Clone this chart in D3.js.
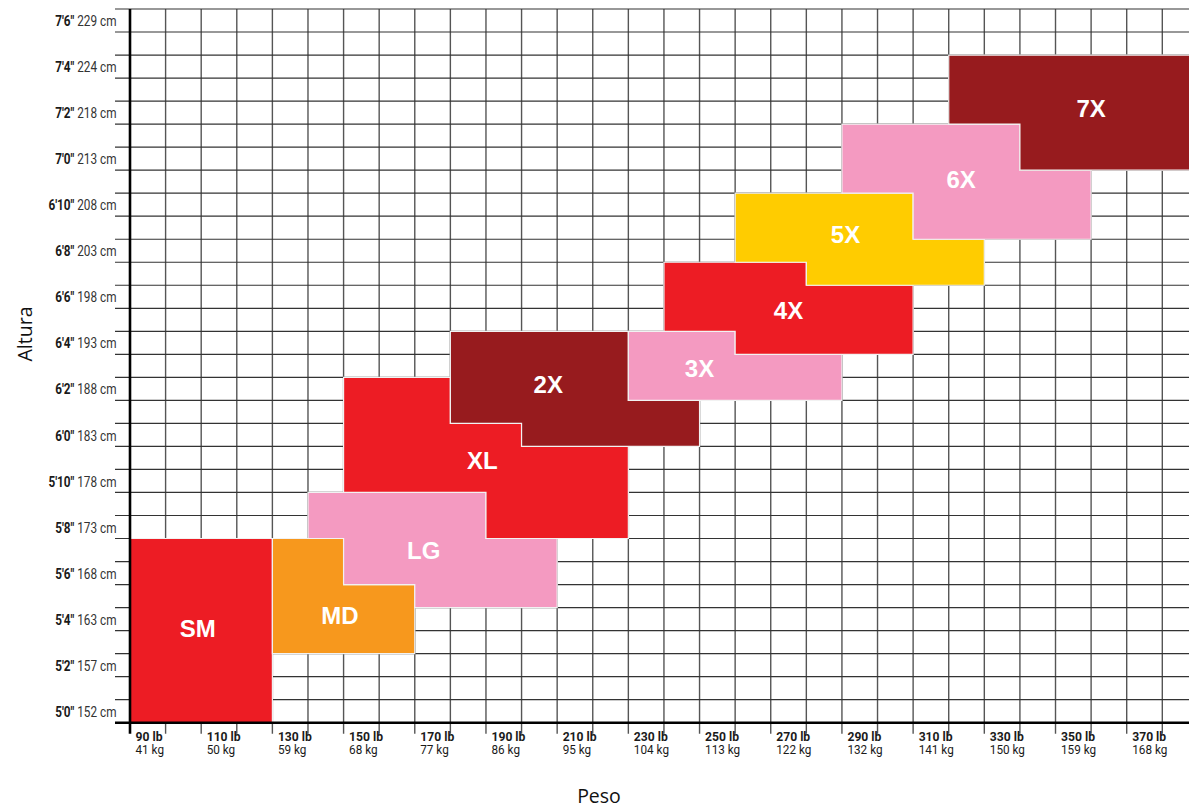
<!DOCTYPE html>
<html>
<head>
<meta charset="utf-8">
<script src="https://cdn.jsdelivr.net/npm/d3@7"></script>
<style>
  body { margin: 0; background: #fff; }
  .tick-label { font-family: Roboto, "Liberation Sans", sans-serif; fill: #1a1a1a; }
  .size-label { font-family: "Liberation Sans", Arial, sans-serif; font-weight: bold; fill: #fff; font-size: 24px; text-anchor: middle; }
  .axis-title { font-family: "Open Sans", "Noto Sans", sans-serif; font-size: 19.5px; fill: #111; }
</style>
</head>
<body>
<div class="chart"></div>
<script>
// DATA ------------------------------------

// y tick labels (every 2 inches, starting 5'0")
const heightInches = [60, 62, 64, 66, 68, 70, 72, 74, 76, 78, 80, 82, 84, 86, 88, 90];
const heightFeet = ["5'0\"", "5'2\"", "5'4\"", "5'6\"", "5'8\"", "5'10\"", "6'0\"", "6'2\"",
  "6'4\"", "6'6\"", "6'8\"", "6'10\"", "7'0\"", "7'2\"", "7'4\"", "7'6\""];
const heightCm = [152, 157, 163, 168, 173, 178, 183, 188, 193, 198, 203, 208, 213, 218, 224, 229];

// x tick labels (every 20 lb)
const weightLb = [90, 110, 130, 150, 170, 190, 210, 230, 250, 270, 290, 310, 330, 350, 370];
const weightKg = [41, 50, 59, 68, 77, 86, 95, 104, 113, 122, 132, 141, 150, 159, 168];

// sizes, outlines as [lb, inches] corners
const sizes = ['SM', 'MD', 'LG', 'XL', '2X', '3X', '4X', '5X', '6X', '7X'];
const sizeColors = ['#ED1C24', '#F7981D', '#F49AC1', '#ED1C24', '#971B1E',
  '#F49AC1', '#ED1C24', '#FFCC00', '#F49AC1', '#971B1E'];
const sizeOutlines = [
  [[90, 68], [130, 68], [130, 60], [90, 60]],
  [[130, 68], [150, 68], [150, 66], [170, 66], [170, 63], [130, 63]],
  [[140, 70], [190, 70], [190, 68], [210, 68], [210, 65], [170, 65], [170, 66], [150, 66], [150, 68], [140, 68]],
  [[150, 75], [180, 75], [180, 73], [200, 73], [200, 72], [230, 72], [230, 68], [190, 68], [190, 70], [150, 70]],
  [[180, 77], [230, 77], [230, 74], [250, 74], [250, 72], [200, 72], [200, 73], [180, 73]],
  [[230, 77], [260, 77], [260, 76], [290, 76], [290, 74], [230, 74]],
  [[240, 80], [280, 80], [280, 79], [310, 79], [310, 76], [260, 76], [260, 77], [240, 77]],
  [[260, 83], [310, 83], [310, 81], [330, 81], [330, 79], [280, 79], [280, 80], [260, 80]],
  [[290, 86], [340, 86], [340, 84], [360, 84], [360, 81], [310, 81], [310, 83], [290, 83]],
  [[320, 89], [395, 89], [395, 84], [340, 84], [340, 86], [320, 86]]
];
const labelLb = [109, 149, 172.5, 189, 207.5, 250, 275, 291, 323.5, 360];
const labelIn = [64.1, 64.65, 67.5, 71.4, 74.7, 75.4, 77.9, 81.2, 83.6, 86.7];

// CHART INIT ------------------------------

const margin = { top: 9, right: 0, bottom: 85.3, left: 130 };
const width = 1189 - margin.left - margin.right;
const height = 808 - margin.top - margin.bottom;

const svg = d3
  .select('.chart')
  .append('svg')
  .attr('width', width + margin.left + margin.right)
  .attr('height', height + margin.top + margin.bottom);

const group = svg
  .append('g')
  .attr('transform', 'translate(' + margin.left + ',' + margin.top + ')');

const xScale = d3.scaleLinear().domain([90, 387.5]).range([0, width]);
const yScale = d3.scaleLinear().domain([60, 91]).range([height, 0]);

// grid lines (every 10 lb / every inch), extended past the axes as ticks
group
  .selectAll('.vgrid')
  .data(d3.range(100, 390, 10))
  .join('line')
  .attr('x1', (d) => xScale(d))
  .attr('x2', (d) => xScale(d))
  .attr('y1', 0)
  .attr('y2', height + 11)
  .attr('stroke', '#555')
  .attr('stroke-width', 1.4);

group
  .selectAll('.hgrid')
  .data(d3.range(61, 92))
  .join('line')
  .attr('x1', -15)
  .attr('x2', width)
  .attr('y1', (d) => yScale(d))
  .attr('y2', (d) => yScale(d))
  .attr('stroke', '#333')
  .attr('stroke-width', 1.2);

// size shapes
const line = d3
  .line()
  .x((d) => xScale(d[0]))
  .y((d) => yScale(d[1]))
  .curve(d3.curveLinearClosed);

group
  .selectAll('.shape')
  .data(sizes)
  .join('path')
  .attr('d', (d, i) => line(sizeOutlines[i]))
  .attr('fill', (d, i) => sizeColors[i])
  .attr('stroke', '#f2f2f2')
  .attr('stroke-width', 1.2);

group
  .selectAll('.size-label')
  .data(sizes)
  .join('text')
  .attr('class', 'size-label')
  .attr('x', (d, i) => xScale(labelLb[i]))
  .attr('y', (d, i) => yScale(labelIn[i]))
  .attr('dy', '0.36em')
  .text((d) => d);

// axes lines
group
  .append('line')
  .attr('x1', 0).attr('x2', 0)
  .attr('y1', 0).attr('y2', height + 11)
  .attr('stroke', '#000').attr('stroke-width', 2.6);

group
  .append('line')
  .attr('x1', -15).attr('x2', width)
  .attr('y1', height).attr('y2', height)
  .attr('stroke', '#000').attr('stroke-width', 2.6);

// y tick labels (centered in the inch cell above the value), condensed look
const yLabels = group
  .selectAll('.ylab')
  .data(heightInches)
  .join('text')
  .attr('class', 'tick-label')
  .attr('transform', (d) => 'translate(-13.5,' + yScale(d + 0.5) + ') scale(0.76,1)')
  .attr('dy', '0.36em')
  .attr('text-anchor', 'end')
  .attr('font-size', 15.5);

yLabels.append('tspan').attr('font-weight', 'bold').text((d, i) => heightFeet[i] + ' ');
yLabels.append('tspan').attr('fill', '#333').text((d, i) => heightCm[i] + ' cm');

// x tick labels (left aligned in the 10 lb cell)
group
  .selectAll('.xlab')
  .data(weightLb)
  .join('text')
  .attr('class', 'tick-label')
  .attr('transform', (d) => 'translate(' + (xScale(d) + 5.5) + ',' + (height + 18) + ') scale(0.9,1)')
  .attr('font-size', 13.5)
  .attr('font-weight', 'bold')
  .text((d) => d + ' lb');

group
  .selectAll('.xkg')
  .data(weightLb)
  .join('text')
  .attr('class', 'tick-label')
  .attr('transform', (d) => 'translate(' + (xScale(d) + 5.5) + ',' + (height + 31) + ') scale(0.87,1)')
  .attr('font-size', 13.5)
  .attr('fill', '#444')
  .text((d, i) => weightKg[i] + ' kg');

// axis titles
svg
  .append('text')
  .attr('class', 'axis-title')
  .attr('x', 599)
  .attr('y', 803)
  .attr('text-anchor', 'middle')
  .text('Peso');

svg
  .append('text')
  .attr('class', 'axis-title')
  .attr('transform', 'translate(32,334) rotate(-90)')
  .attr('text-anchor', 'middle')
  .text('Altura');
</script>
</body>
</html>
